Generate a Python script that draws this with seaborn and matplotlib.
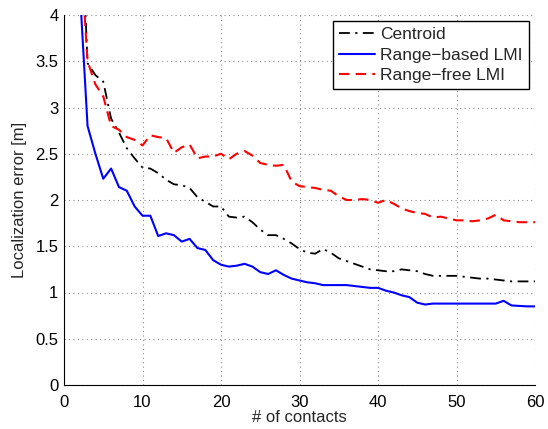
import matplotlib
matplotlib.use("Agg")
import matplotlib.pyplot as plt
import seaborn as sns
import numpy as np
import pandas as pd

contacts = list(range(2, 61))

centroid = [5.5, 3.48, 3.35, 3.28, 2.88, 2.73, 2.56, 2.45, 2.35, 2.34,
            2.29, 2.22, 2.17, 2.16, 2.13, 2.03, 1.98, 1.93, 1.93, 1.82,
            1.81, 1.82, 1.76, 1.68, 1.62, 1.62, 1.58, 1.53, 1.47, 1.43,
            1.42, 1.47, 1.43, 1.37, 1.34, 1.31, 1.28, 1.25, 1.24, 1.23,
            1.23, 1.25, 1.24, 1.23, 1.20, 1.18, 1.18, 1.18, 1.18, 1.17,
            1.16, 1.15, 1.15, 1.14, 1.13, 1.12, 1.12, 1.12, 1.12]

range_based = [4.30, 2.80, 2.50, 2.23, 2.34, 2.14, 2.10, 1.93, 1.83, 1.83,
               1.61, 1.64, 1.62, 1.55, 1.58, 1.48, 1.46, 1.35, 1.30, 1.28,
               1.29, 1.31, 1.28, 1.22, 1.20, 1.24, 1.19, 1.15, 1.13, 1.11,
               1.10, 1.08, 1.08, 1.08, 1.08, 1.07, 1.06, 1.05, 1.05, 1.02,
               1.00, 0.97, 0.95, 0.89, 0.87, 0.88, 0.88, 0.88, 0.88, 0.88,
               0.88, 0.88, 0.88, 0.88, 0.91, 0.86, 0.855, 0.85, 0.85]

range_free = [4.85, 3.50, 3.25, 3.12, 2.80, 2.76, 2.68, 2.65, 2.59, 2.70,
              2.68, 2.67, 2.51, 2.57, 2.60, 2.45, 2.47, 2.47, 2.50, 2.44,
              2.50, 2.53, 2.48, 2.40, 2.38, 2.37, 2.38, 2.20, 2.15, 2.14,
              2.13, 2.11, 2.10, 2.04, 2.00, 2.00, 2.01, 2.00, 1.97, 2.00,
              1.96, 1.91, 1.88, 1.86, 1.85, 1.81, 1.82, 1.80, 1.78, 1.78,
              1.77, 1.78, 1.80, 1.84, 1.78, 1.77, 1.76, 1.76, 1.76]

x_ticks = [0, 10, 20, 30, 40, 50, 60]
y_ticks = [0, 0.5, 1, 1.5, 2, 2.5, 3, 3.5, 4]
y_tick_labels = ["0", "0.5", "1", "1.5", "2", "2.5", "3", "3.5", "4"]

sns.set_style("white")
plt.rcParams["font.family"] = ["Liberation Sans", "DejaVu Sans"]
plt.rcParams["font.size"] = 12

fig = plt.figure(figsize=(5.48, 4.29), dpi=100)
ax = fig.add_axes([64 / 548, 44 / 429, 471 / 548, 370 / 429])

sns.lineplot(x=contacts, y=centroid, ax=ax, color="black", linewidth=1.3,
             linestyle=(0, (6, 3, 1.2, 3)), label="Centroid")
sns.lineplot(x=contacts, y=range_based, ax=ax, color="#0000ff", linewidth=1.5,
             linestyle="-", label="Range\u2212based LMI")
sns.lineplot(x=contacts, y=range_free, ax=ax, color="#ff0000", linewidth=1.5,
             linestyle=(0, (5, 3)), label="Range\u2212free LMI")

ax.set_xlim(0, 60)
ax.set_ylim(0, 4)
ax.set_xticks(x_ticks)
ax.set_xticklabels([str(t) for t in x_ticks])
ax.set_yticks(y_ticks)
ax.set_yticklabels(y_tick_labels)
ax.grid(True, linestyle=(0, (1, 3)), color="0.55", linewidth=0.8)
ax.set_axisbelow(True)

for side in ["top", "right"]:
    ax.spines[side].set_visible(False)
for side in ["left", "bottom"]:
    ax.spines[side].set_color("black")
    ax.spines[side].set_linewidth(0.8)
ax.tick_params(direction="in", length=4, width=0.8, colors="black",
               labelsize=12)
ax.tick_params(axis="x", pad=7)
ax.tick_params(axis="y", pad=4)

ax.set_xlabel("# of contacts", fontsize=12, labelpad=0)
ax.set_ylabel("Localization error [m]", fontsize=12, labelpad=6)

leg = ax.legend(loc="upper right", fontsize=12.5, frameon=True, fancybox=False,
                handlelength=2.1, borderpad=0.35, labelspacing=0.3,
                handletextpad=0.3, borderaxespad=0.35)
leg.get_frame().set_edgecolor("black")
leg.get_frame().set_linewidth(1.0)
leg.get_frame().set_alpha(1)

fig.savefig("out.png", dpi=100)
